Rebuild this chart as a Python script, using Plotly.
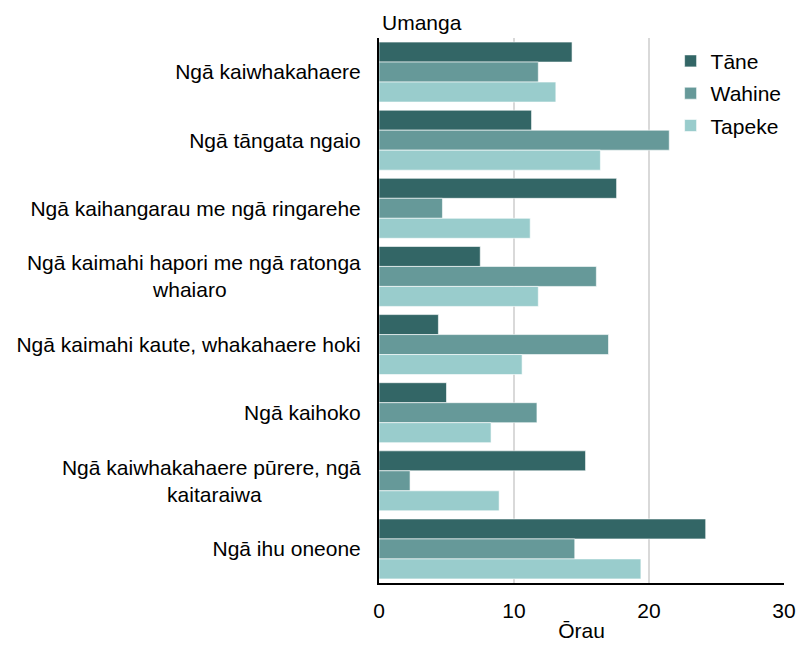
import plotly.graph_objects as go

NB = "\u00a0"
categories = [
    "Ngā kaiwhakahaere",
    "Ngā tāngata ngaio",
    "Ngā kaihangarau me ngā ringarehe",
    "Ngā kaimahi hapori me ngā ratonga<br>whaiaro" + NB * 23,
    "Ngā kaimahi kaute, whakahaere hoki",
    "Ngā kaihoko",
    "Ngā kaiwhakahaere pūrere, ngā<br>kaitaraiwa" + NB * 17,
    "Ngā ihu oneone",
]
tane = [14.3, 11.3, 17.6, 7.5, 4.4, 5.0, 15.3, 24.2]
wahine = [11.8, 21.5, 4.7, 16.1, 17.0, 11.7, 2.3, 14.5]
tapeke = [13.1, 16.4, 11.2, 11.8, 10.6, 8.3, 8.9, 19.4]
series_names = ["Tāne", "Wahine", "Tapeke"]
colors = ["#336666", "#669999", "#99CCCC"]
x_ticks = [0, 10, 20, 30]

fig = go.Figure()
for name, vals, col in zip(series_names, [tane, wahine, tapeke], colors):
    fig.add_trace(go.Bar(
        y=categories, x=vals, name=name, orientation="h",
        legendgroup=name,
        marker=dict(color=col, line=dict(color="white", width=0.6)),
    ))

font = "Liberation Sans, Arial, sans-serif"
FS = 21
fig.update_layout(
    width=798, height=634,
    barmode="group", bargap=0.12, bargroupgap=0,
    plot_bgcolor="white", paper_bgcolor="white",
    margin=dict(l=371, r=22, t=30, b=59),
    font=dict(family=font, size=FS, color="#000000"),
    legend=dict(x=0.72, y=0.995, xanchor="left", yanchor="top",
                traceorder="grouped", font=dict(size=FS),
                itemwidth=30, tracegroupgap=2, bgcolor="rgba(0,0,0,0)"),
    xaxis=dict(range=[0, 30], tickvals=x_ticks, showgrid=True,
               gridcolor="#D9D9D9", gridwidth=1.5, zeroline=False,
               showline=True, linecolor="black", linewidth=2,
               ticks="", tickfont=dict(size=FS), automargin=False,
               ticklabelstandoff=8, ticklabeloverflow="allow",
               title=dict(text="Ōrau", font=dict(size=FS), standoff=9)),
    yaxis=dict(autorange="reversed", showline=True, linecolor="black",
               linewidth=2, ticks="", ticklabelstandoff=12,
               tickfont=dict(size=FS), showgrid=False, automargin=False),
    annotations=[dict(text="Umanga", xref="paper", yref="paper",
                      x=0, y=1, xanchor="left", yanchor="bottom",
                      yshift=2, xshift=1, showarrow=False,
                      font=dict(size=FS))],
)

fig.write_html("out.html")
